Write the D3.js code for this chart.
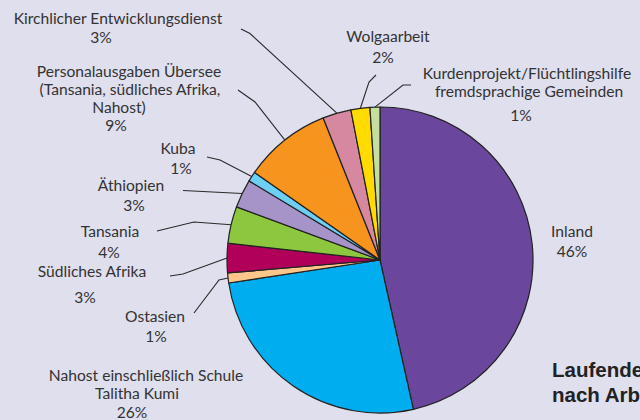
<!DOCTYPE html>
<html>
<head>
<meta charset="utf-8">
<script src="https://cdn.jsdelivr.net/npm/d3@7"></script>
<style>
  html, body { margin: 0; padding: 0; background: #dfdfee; overflow: hidden; }
  svg { display: block; }
  .lbl { font-family: Lato, "Open Sans", sans-serif; font-size: 15.6px; fill: #333; }
</style>
</head>
<body>
<svg id="chart" width="640" height="420"></svg>
<script>
// data, in slice order clockwise from 12 o'clock
var names = [
    ["Inland"],
    ["Nahost einschließlich Schule", "Talitha Kumi"],
    ["Ostasien"],
    ["Südliches Afrika"],
    ["Tansania"],
    ["Äthiopien"],
    ["Kuba"],
    ["Personalausgaben Übersee", "(Tansania, südliches Afrika,", "Nahost)"],
    ["Kirchlicher Entwicklungsdienst"],
    ["Wolgaarbeit"],
    ["Kurdenprojekt/Flüchtlingshilfe", "fremdsprachige Gemeinden"]
];
var shares = [46.5, 26.1, 1.05, 3.1, 3.9, 3.0, 1.05, 9.25, 3.0, 2.0, 1.05];
var pctLabels = ["46%", "26%", "1%", "3%", "4%", "3%", "1%", "9%", "3%", "2%", "1%"];
var colors = ["#6a479c", "#00aeef", "#ffc68c", "#b1005a", "#8dc63f", "#a694c9",
              "#6dcff6", "#f7941d", "#d5889f", "#ffdb00", "#c5e09e"];

// label layout: name line x/baseline, pct x/baseline, leader polyline (start + bends)
var layout = [
    {x: [572], y: 237, dy: 20, px: 572, py: 257, lead: null},
    {x: [146, 137], y: 381, dy: 18, px: 132, py: 418, lead: null},
    {x: [155], y: 322, dy: 20, px: 156, py: 342, lead: [[194, 313], [219, 280]]},
    {x: [92], y: 277, dy: 20, px: 85, py: 303, lead: [[170, 276], [183, 274]]},
    {x: [110], y: 237, dy: 20, px: 109, py: 258, lead: [[157, 231], [194, 222]]},
    {x: [131], y: 191, dy: 20, px: 134, py: 211, lead: [[183, 190.5]]},
    {x: [178], y: 154, dy: 20, px: 181, py: 174, lead: [[207, 157], [220, 160]]},
    {x: [129, 130, 119], y: 77, dy: 18, px: 116, py: 131, lead: [[238, 90], [255, 102]]},
    {x: [118], y: 24, dy: 20, px: 101, py: 43, lead: [[241, 29], [250, 33.5]]},
    {x: [388], y: 42, dy: 20, px: 383, py: 63, lead: [[376, 75], [369, 82]]},
    {x: [527, 529], y: 79, dy: 18, px: 521, py: 121, lead: [[411, 85], [403, 85]]}
];

var svg = d3.select("#chart");
var cx = 380, cy = 260, radius = 153;
var g = svg.append("g").attr("transform", "translate(" + cx + "," + cy + ")");

var pie = d3.pie().sort(null).value(function (d) { return d; });
var arcs = pie(shares);
var arc = d3.arc().innerRadius(0).outerRadius(radius);

g.selectAll("path.slice")
    .data(arcs)
    .enter().append("path")
    .attr("class", "slice")
    .attr("d", arc)
    .attr("fill", function (d, i) { return colors[i]; })
    .attr("stroke", "#222")
    .attr("stroke-width", 1.2)
    .attr("stroke-linejoin", "round");

// leader lines
var line = d3.line();
arcs.forEach(function (d, i) {
    var L = layout[i];
    if (!L.lead) return;
    var mid = (d.startAngle + d.endAngle) / 2;
    var p = [cx + radius * Math.sin(mid), cy - radius * Math.cos(mid)];
    svg.append("path")
        .attr("d", line(L.lead.concat([p])))
        .attr("fill", "none")
        .attr("stroke", "#2a2a2a")
        .attr("stroke-width", 1.1);
});

// labels
names.forEach(function (lines, i) {
    var L = layout[i];
    lines.forEach(function (t, j) {
        svg.append("text")
            .attr("class", "lbl")
            .attr("x", L.x[j])
            .attr("y", L.y + j * L.dy)
            .attr("text-anchor", "middle")
            .text(t);
    });
    svg.append("text")
        .attr("class", "lbl")
        .attr("x", L.px)
        .attr("y", L.py)
        .attr("text-anchor", "middle")
        .text(pctLabels[i]);
});

// title, runs off the right edge in the original
var title = svg.append("text")
    .attr("font-family", "Liberation Sans, Arial, sans-serif")
    .attr("font-weight", "bold")
    .attr("font-size", 20.5)
    .attr("fill", "#222");
title.append("tspan").attr("x", 552).attr("y", 377).text("Laufende Ausgaben");
title.append("tspan").attr("x", 552).attr("y", 402).text("nach Arbeitsbereichen");
</script>
</body>
</html>
